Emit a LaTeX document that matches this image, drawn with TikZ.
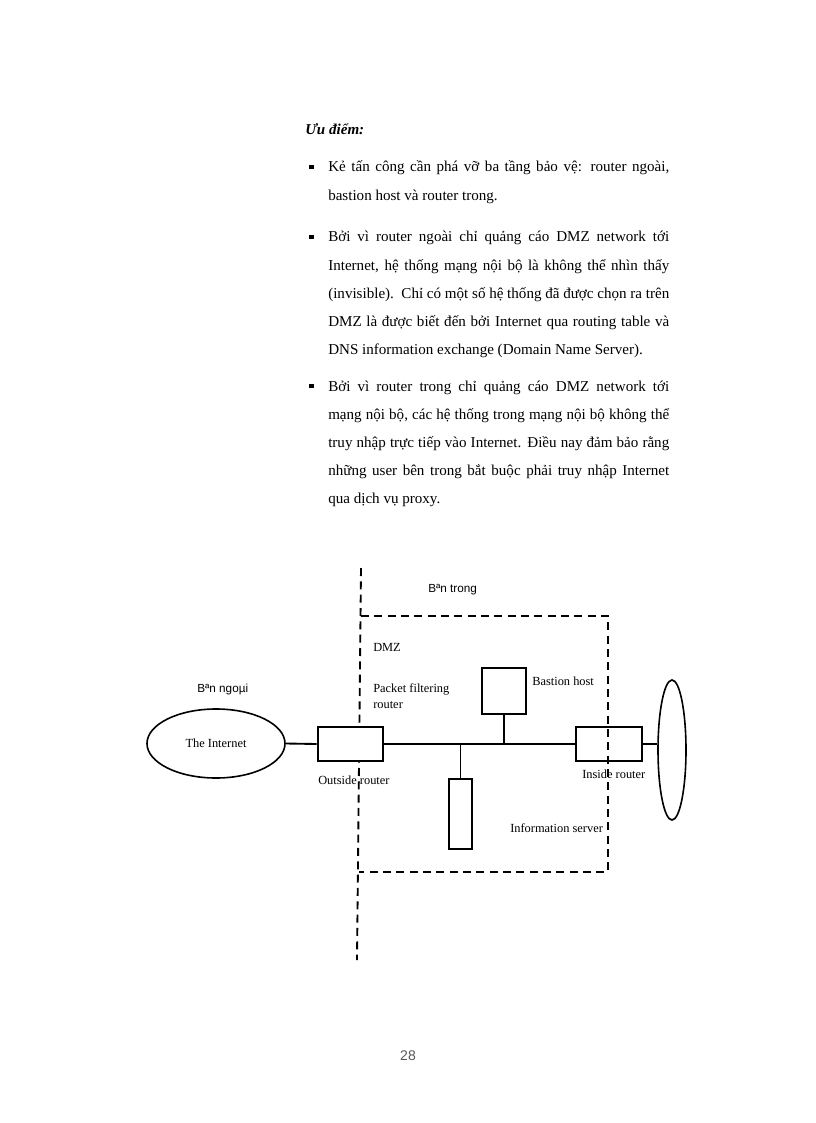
\documentclass[tikz,border=0pt]{standalone}
\usepackage{fontspec}
\setmainfont{Liberation Serif}
\newfontfamily\arialf{Liberation Sans}
\usetikzlibrary{shapes.geometric}
\newcommand\jl[1]{\makebox[255.75pt][s]{#1}}
\begin{document}
\begin{tikzpicture}[x=0.75pt,y=-0.75pt,
  body/.style={anchor=base west, inner sep=0, font=\fontsize{11.3}{13}\selectfont},
  head/.style={anchor=base west, inner sep=0, font=\fontsize{11.3}{13}\selectfont\bfseries\itshape},
  bul/.style={fill=black, inner sep=0, minimum size=3.6pt, rectangle},
  lbl/.style={anchor=base west, inner sep=0, font=\fontsize{9.3}{11}\selectfont},
  slbl/.style={anchor=base west, inner sep=0, font=\arialf\fontsize{8.8}{11}\selectfont},
  wire/.style={line width=1.4pt},
  boxn/.style={draw, rectangle, line width=1.3pt, inner sep=0},
  dmz/.style={line width=1.4pt, dash pattern=on 6pt off 4pt},
  netw/.style={draw, ellipse, line width=1.2pt, inner sep=0}]
\fill[white] (0,0) rectangle (816,1123);
\useasboundingbox (0,0) rectangle (816,1123);

% ---- text ----
\node[head] (hd) at (305,135) {Ưu điểm:};

\node[bul] (b1) at (311.5,167) {};
\node[body] (l11) at (328,172) {\jl{Kẻ tấn công cần phá vỡ ba tầng bảo vệ: router ngoài,}};
\node[body] (l12) at (328,201) {bastion host và router trong.};

\node[bul] (b2) at (311.5,237) {};
\node[body] (l21) at (328,242) {\jl{Bởi vì router ngoài chỉ quảng cáo DMZ network tới}};
\node[body] (l22) at (328,270) {\jl{Internet, hệ thống mạng nội bộ là không thể nhìn thấy}};
\node[body] (l23) at (328,298) {\jl{(invisible).\ \ Chỉ có một số hệ thống đã được chọn ra trên}};
\node[body] (l24) at (328,326) {\jl{DMZ là được biết đến bởi Internet qua routing table và}};
\node[body] (l25) at (328,354) {DNS information exchange (Domain Name Server).};

\node[bul] (b3) at (311.5,386) {};
\node[body] (l31) at (328,391) {\jl{Bởi vì router trong chỉ quảng cáo DMZ network tới}};
\node[body] (l32) at (328,419) {\jl{mạng nội bộ, các hệ thống trong mạng nội bộ không thể}};
\node[body] (l33) at (328,447) {\jl{truy nhập trực tiếp vào Internet. Điều nay đảm bảo rằng}};
\node[body] (l34) at (328,475) {\jl{những user bên trong bắt buộc phải truy nhập Internet}};
\node[body] (l35) at (328,503) {qua dịch vụ proxy.};

% ---- diagram ----
\coordinate (vt) at (361,568);
\coordinate (vb) at (357,960);
\coordinate (d1) at (361,616);
\coordinate (d2) at (608,616);
\coordinate (d3) at (608,872);
\coordinate (d4) at (359,872);
\draw[dmz] (vt) -- (vb);
\draw[dmz] (d1) -- (d2) -- (d3) -- (d4);

\node[slbl] (tin) at (428,592) {Bªn trong};
\node[slbl] (tout) at (197,692) {Bªn ngoµi};
\node[lbl] (tdmz) at (373,651) {DMZ};
\node[lbl] (tpf1) at (373,692) {Packet filtering};
\node[lbl] (tpf2) at (373,708) {router};

\node[netw, minimum width=103.5pt, minimum height=51.75pt,
      font=\fontsize{9.3}{11}\selectfont] (inet) at (216,743.5) {The Internet};
\node[netw, minimum width=21pt, minimum height=105pt] (lan) at (672,750) {};

\node[boxn, fill=white, line width=2.2pt, minimum width=48.75pt, minimum height=25.5pt] (outr) at (350.5,744) {};
\node[boxn, minimum width=49.5pt, minimum height=25.5pt] (inr) at (609,744) {};
\node[boxn, minimum width=33pt, minimum height=34.5pt] (bast) at (504,691) {};
\node[boxn, minimum width=17.25pt, minimum height=52.5pt] (info) at (460.5,814) {};

\coordinate (j1) at (460.5,744);
\coordinate (j2) at (504,744);
\draw[wire] (inet.east) -- (outr.west);
\draw[wire] (outr.east) -- (inr.west);
\draw[wire] (bast.south) -- (j2);
\draw[wire] (info.north) -- (j1);
\draw[wire] (inr.east) -- (inr.east -| lan.west);

\node[lbl] (tor) at (318,784) {Outside router};
\node[lbl] (tbh) at (532,685) {Bastion host};
\node[lbl] (tir) at (582,778) {Inside router};
\node[lbl] (tis) at (510,832) {Information server};

\node[anchor=base, inner sep=0, text=black!65, font=\arialf\fontsize{10.5}{12}\selectfont] (pg) at (408,1060) {28};
\end{tikzpicture}
\end{document}
